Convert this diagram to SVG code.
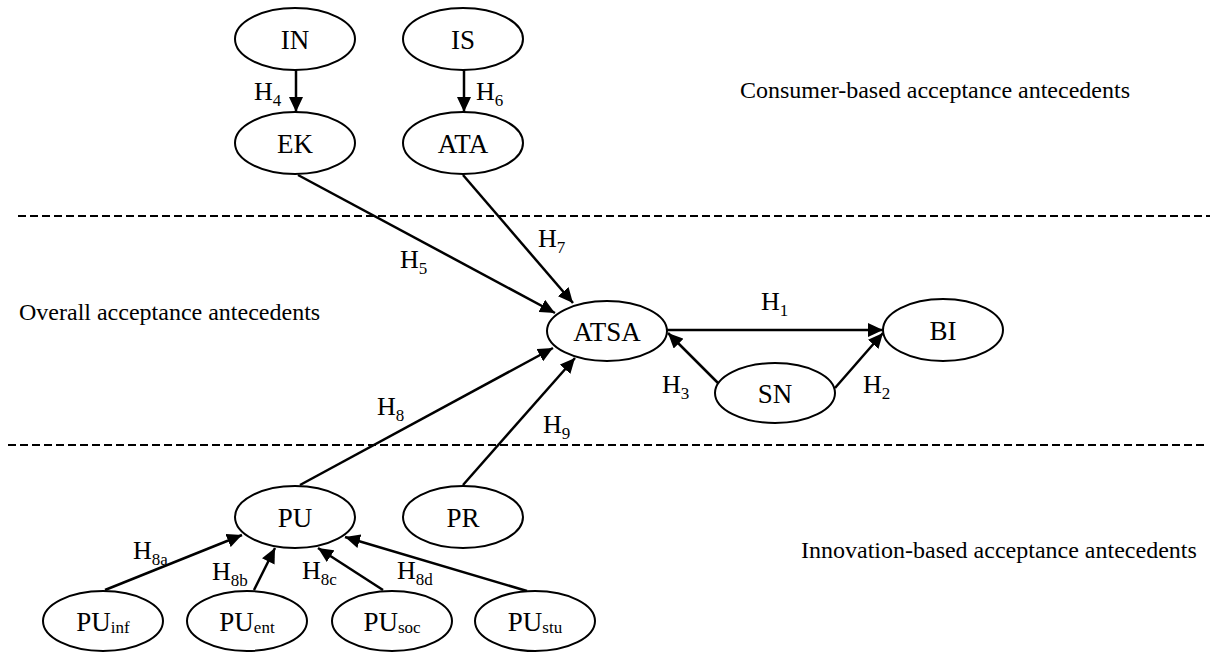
<svg xmlns="http://www.w3.org/2000/svg" width="1215" height="654" viewBox="0 0 1215 654">
<style>
.n ellipse{fill:#fff;stroke:#000;stroke-width:2}
.n text{font-family:"Liberation Serif","Times New Roman",serif;font-size:27px;text-anchor:middle;fill:#000}
.c line{stroke:#000;stroke-width:2.5;marker-end:url(#ah)}
.h{font-family:"Liberation Serif","Times New Roman",serif;font-size:26px;fill:#000}
.s{font-size:17px}
.area{font-family:"Liberation Serif","Times New Roman",serif;font-size:24px;fill:#000}
.dash{stroke:#000;stroke-width:2;stroke-dasharray:8 4}
</style>
<defs>
<marker id="ah" markerUnits="userSpaceOnUse" markerWidth="16" markerHeight="14" refX="15" refY="7" orient="auto">
<path d="M0,0 L15,7 L0,14 z" fill="#000"/>
</marker>
</defs>
<rect width="1215" height="654" fill="#fff"/>
<g id="separators">
<line class="dash" x1="18" y1="216" x2="1210" y2="216"/>
<line class="dash" x1="8" y1="445" x2="1208" y2="445"/>
</g>
<g id="area-labels">
<text class="area" x="740" y="98">Consumer-based acceptance antecedents</text>
<text class="area" x="19" y="320">Overall acceptance antecedents</text>
<text class="area" x="801" y="558">Innovation-based acceptance antecedents</text>
</g>
<g class="c" id="connectors">
<line x1="296" y1="70" x2="296" y2="112"/>
<line x1="464" y1="70" x2="464" y2="112"/>
<line x1="298" y1="175" x2="555" y2="313"/>
<line x1="463" y1="175" x2="573" y2="303"/>
<line x1="300" y1="485" x2="553" y2="348"/>
<line x1="463" y1="485" x2="575" y2="358"/>
<line x1="667" y1="330" x2="883" y2="330"/>
<line x1="718" y1="383" x2="668" y2="333"/>
<line x1="835" y1="388" x2="883" y2="333"/>
<line x1="105" y1="590" x2="242" y2="535"/>
<line x1="254" y1="590" x2="275" y2="548"/>
<line x1="383" y1="590" x2="318" y2="548"/>
<line x1="527" y1="591" x2="345" y2="537"/>
</g>
<g id="hyp-labels">
<text class="h" x="254" y="100">H<tspan class="s" dy="6">4</tspan></text>
<text class="h" x="476" y="100">H<tspan class="s" dy="6">6</tspan></text>
<text class="h" x="400" y="268">H<tspan class="s" dy="6">5</tspan></text>
<text class="h" x="538" y="247">H<tspan class="s" dy="6">7</tspan></text>
<text class="h" x="761" y="310">H<tspan class="s" dy="6">1</tspan></text>
<text class="h" x="662" y="393">H<tspan class="s" dy="6">3</tspan></text>
<text class="h" x="863" y="393">H<tspan class="s" dy="6">2</tspan></text>
<text class="h" x="377" y="415">H<tspan class="s" dy="6">8</tspan></text>
<text class="h" x="543" y="433">H<tspan class="s" dy="6">9</tspan></text>
<text class="h" x="133" y="559">H<tspan class="s" dy="6">8a</tspan></text>
<text class="h" x="212" y="580">H<tspan class="s" dy="6">8b</tspan></text>
<text class="h" x="302" y="579">H<tspan class="s" dy="6">8c</tspan></text>
<text class="h" x="397" y="579">H<tspan class="s" dy="6">8d</tspan></text>
</g>
<g class="n" id="IN"><ellipse cx="295" cy="39" rx="60" ry="31"/><text x="295" y="49">IN</text></g>
<g class="n" id="IS"><ellipse cx="463" cy="39" rx="60" ry="31"/><text x="463" y="49">IS</text></g>
<g class="n" id="EK"><ellipse cx="295" cy="143" rx="60" ry="31"/><text x="295" y="153">EK</text></g>
<g class="n" id="ATA"><ellipse cx="463" cy="143" rx="60" ry="31"/><text x="463" y="153">ATA</text></g>
<g class="n" id="ATSA"><ellipse cx="607" cy="331" rx="60" ry="30"/><text x="607" y="341">ATSA</text></g>
<g class="n" id="BI"><ellipse cx="943" cy="330" rx="60" ry="31"/><text x="943" y="340">BI</text></g>
<g class="n" id="SN"><ellipse cx="775" cy="393" rx="60" ry="30"/><text x="775" y="403">SN</text></g>
<g class="n" id="PU"><ellipse cx="295" cy="517" rx="60" ry="31"/><text x="295" y="527">PU</text></g>
<g class="n" id="PR"><ellipse cx="463" cy="517" rx="60" ry="31"/><text x="463" y="527">PR</text></g>
<g class="n" id="PU_inf"><ellipse cx="103" cy="621" rx="60" ry="30"/><text x="103" y="631">PU<tspan font-size="17" dy="2">inf</tspan></text></g>
<g class="n" id="PU_ent"><ellipse cx="247" cy="621" rx="60" ry="30"/><text x="247" y="631">PU<tspan font-size="17" dy="2">ent</tspan></text></g>
<g class="n" id="PU_soc"><ellipse cx="392" cy="621" rx="60" ry="30"/><text x="392" y="631">PU<tspan font-size="17" dy="2">soc</tspan></text></g>
<g class="n" id="PU_stu"><ellipse cx="535" cy="621" rx="60" ry="30"/><text x="535" y="631">PU<tspan font-size="17" dy="2">stu</tspan></text></g>
</svg>
